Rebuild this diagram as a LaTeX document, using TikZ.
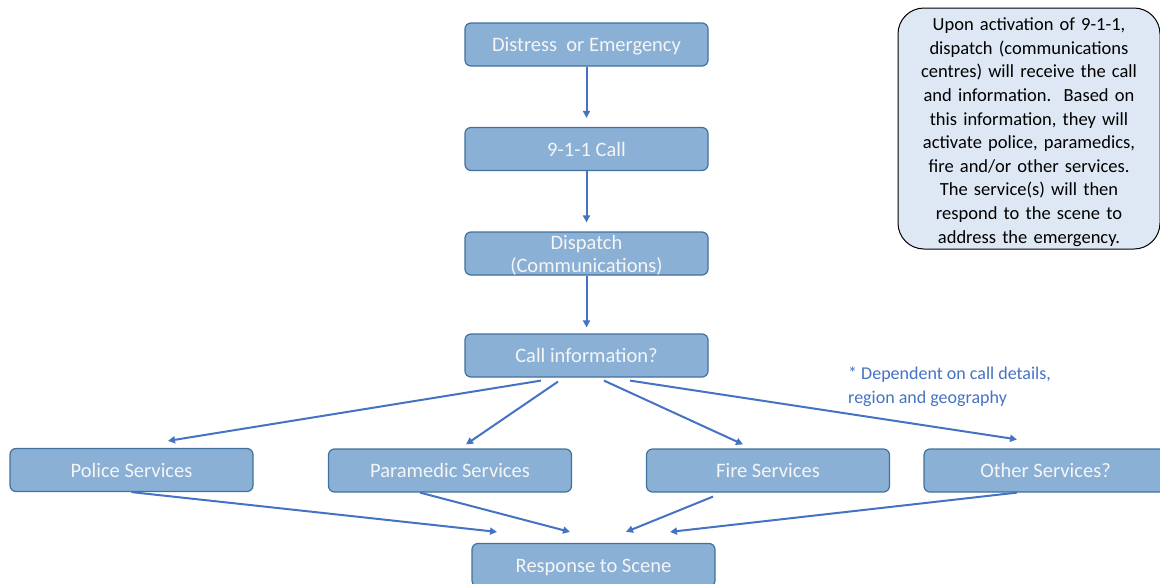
\documentclass[tikz,border=0pt]{standalone}
\usepackage{fontspec}
\setmainfont{Carlito}
\usetikzlibrary{arrows.meta,calc}
\definecolor{boxfill}{RGB}{138,176,214}
\definecolor{boxdraw}{RGB}{65,113,156}
\definecolor{arrowc}{RGB}{68,114,196}
\definecolor{notefill}{RGB}{222,232,245}
\definecolor{boxtext}{RGB}{245,245,245}
\begin{document}
\begin{tikzpicture}[x=1pt,y=-1pt,
  flowbox/.style={draw=boxdraw,line width=1.2pt,fill=boxfill,rounded corners=6pt,
    minimum width=243pt,minimum height=43pt,inner sep=0pt,text=boxtext,
    text height=14pt,text depth=0pt,
    font=\fontsize{20.5}{23}\selectfont,align=center},
  conn/.style={draw=arrowc,line width=2pt,-{Triangle[length=7pt,width=7pt]}}]
\useasboundingbox (0,0) rectangle (1160,584);
\clip (0,0) rectangle (1160,584);
\node[flowbox] (dist) at (586.5,44.5) {Distress\ \ or Emergency};
\node[flowbox] (c911) at (586.5,149) {9-1-1 Call};
\node[flowbox] (disp) at (586.5,253.5) {};
\node[text=boxtext,font=\fontsize{20.5}{23}\selectfont,align=center,inner sep=0pt] (disptext) at (586.5,255) {Dispatch\\(Communications)};
\node[flowbox] (info) at (586.5,355.5) {Call information?};
\node[flowbox] (police) at (131.5,470) {Police Services};
\node[flowbox] (para) at (450,470.5) {Paramedic Services};
\node[flowbox] (fire) at (768,470.5) {Fire Services};
\node[flowbox] (other) at (1045.5,470.5) {Other Services?};
\node[flowbox] (resp) at (593.5,565) {Response to Scene};
\node[draw=black,line width=1pt,fill=notefill,rounded corners=26pt,
  minimum width=262pt,minimum height=241pt,inner sep=0pt] (note) at (1029,128.5) {};
\node[text width=255pt,align=center,inner sep=0pt,
  font=\fontsize{18.5}{23.6}\selectfont] (notetext) at (1029,132)
  {Upon activation of 9-1-1,\\dispatch (communications\\centres) will receive the call\\and information.\ \ Based on\\this information, they will\\activate police, paramedics,\\fire and/or other services.\\The service(s) will then\\respond to the scene to\\address the emergency.};
\node[text=arrowc,align=left,anchor=north west,inner sep=0pt,
  font=\fontsize{18}{23.6}\selectfont] (dep) at (848,367) {* Dependent on call details,\\region and geography};
\draw[conn] (dist.south) -- ($(c911.north)+(0,-9)$);
\draw[conn] (c911.south) -- ($(disp.north)+(0,-9)$);
\draw[conn] (disp.south) -- ($(info.north)+(0,-6)$);
\draw[conn] ($(info.south)+(-45.5,3)$) -- ($(police.north)+(36.5,-7)$);
\draw[conn] ($(info.south)+(-28.5,4)$) -- ($(para.north)+(16,-4)$);
\draw[conn] ($(info.south)+(17.5,3)$) -- ($(fire.north)+(-25,-4)$);
\draw[conn] ($(info.south)+(43.5,3)$) -- ($(other.north)+(-28.5,-9)$);
\draw[conn] (police.south) -- ($(resp.north)+(-96.5,-11)$);
\draw[conn] ($(para.south)+(-30,0)$) -- ($(resp.north)+(-23.5,-11)$);
\draw[conn] ($(fire.south)+(-55,4)$) -- ($(resp.north)+(32.5,-11)$);
\draw[conn] ($(other.south)+(-28.5,0)$) -- ($(resp.north)+(76.5,-11)$);
\end{tikzpicture}
\end{document}
